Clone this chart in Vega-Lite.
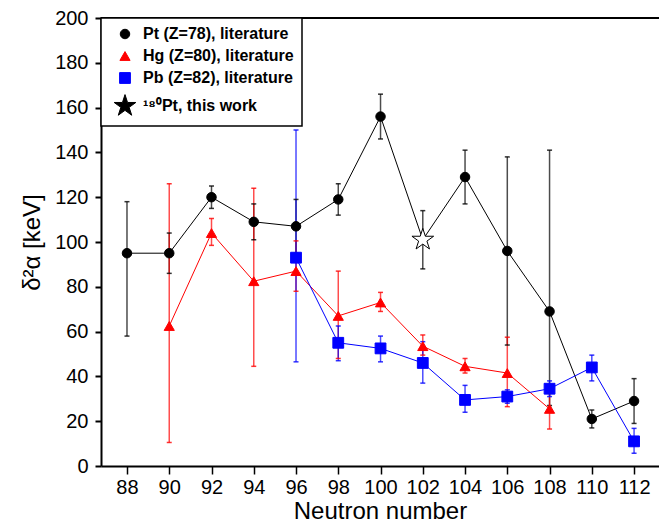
{
  "$schema": "https://vega.github.io/schema/vega-lite/v6.json",
  "width": 558,
  "height": 448,
  "autosize": {"type": "none"},
  "padding": {"left": 101, "top": 18, "right": 0, "bottom": 57},
  "background": "white",
  "config": {
    "view": {"stroke": null},
    "font": "Liberation Sans",
    "axis": {"grid": false, "domainColor": "black", "tickColor": "black", "labelColor": "black", "titleColor": "black", "labelFont": "Liberation Sans", "titleFont": "Liberation Sans", "titleFontWeight": "normal"},
    "legend": {
      "orient": "top-left", "offset": 0, "title": null,
      "strokeColor": "black", "strokeWidth": 1.5, "fillColor": "white",
      "padding": 8, "labelFontSize": 16, "labelFontWeight": "bold", "labelFont": "Liberation Sans", "labelColor": "black",
      "rowPadding": 6, "symbolOffset": 8, "labelOffset": 10, "symbolStrokeWidth": 1, "symbolOpacity": 1
    }
  },
  "data": {
    "values": [
      {"n": 88, "v": 95, "lo": 58, "hi": 118, "series": "Pt (Z=78), literature", "line": "Pt"},
      {"n": 90, "v": 95, "lo": 86, "hi": 104, "series": "Pt (Z=78), literature", "line": "Pt"},
      {"n": 92, "v": 120, "lo": 115, "hi": 125, "series": "Pt (Z=78), literature", "line": "Pt"},
      {"n": 94, "v": 109, "lo": 101, "hi": 117, "series": "Pt (Z=78), literature", "line": "Pt"},
      {"n": 96, "v": 107, "lo": 95, "hi": 119, "series": "Pt (Z=78), literature", "line": "Pt"},
      {"n": 98, "v": 119, "lo": 112, "hi": 126, "series": "Pt (Z=78), literature", "line": "Pt"},
      {"n": 100, "v": 156, "lo": 146, "hi": 166, "series": "Pt (Z=78), literature", "line": "Pt"},
      {"n": 102, "v": 101, "lo": 88, "hi": 114, "series": "¹⁸⁰Pt, this work", "line": "Pt"},
      {"n": 104, "v": 129, "lo": 117, "hi": 141, "series": "Pt (Z=78), literature", "line": "Pt"},
      {"n": 106, "v": 96, "lo": 54, "hi": 138, "series": "Pt (Z=78), literature", "line": "Pt"},
      {"n": 108, "v": 69, "lo": 27, "hi": 141, "series": "Pt (Z=78), literature", "line": "Pt"},
      {"n": 110, "v": 21, "lo": 17, "hi": 25, "series": "Pt (Z=78), literature", "line": "Pt"},
      {"n": 112, "v": 29, "lo": 19, "hi": 39, "series": "Pt (Z=78), literature", "line": "Pt"},
      {"n": 90, "v": 62.5, "lo": 10.5, "hi": 126, "series": "Hg (Z=80), literature", "line": "Hg"},
      {"n": 92, "v": 104, "lo": 98.5, "hi": 110.5, "series": "Hg (Z=80), literature", "line": "Hg"},
      {"n": 94, "v": 82.5, "lo": 44.5, "hi": 124, "series": "Hg (Z=80), literature", "line": "Hg"},
      {"n": 96, "v": 87, "lo": 78, "hi": 100.5, "series": "Hg (Z=80), literature", "line": "Hg"},
      {"n": 98, "v": 67, "lo": 48, "hi": 87, "series": "Hg (Z=80), literature", "line": "Hg"},
      {"n": 100, "v": 73, "lo": 69, "hi": 77.5, "series": "Hg (Z=80), literature", "line": "Hg"},
      {"n": 102, "v": 53.5, "lo": 49.5, "hi": 58.5, "series": "Hg (Z=80), literature", "line": "Hg"},
      {"n": 104, "v": 44.5, "lo": 41.5, "hi": 48, "series": "Hg (Z=80), literature", "line": "Hg"},
      {"n": 106, "v": 41.5, "lo": 26.5, "hi": 57.5, "series": "Hg (Z=80), literature", "line": "Hg"},
      {"n": 108, "v": 25.5, "lo": 16.5, "hi": 34, "series": "Hg (Z=80), literature", "line": "Hg"},
      {"n": 96, "v": 93, "lo": 46.5, "hi": 150, "series": "Pb (Z=82), literature", "line": "Pb"},
      {"n": 98, "v": 55, "lo": 47, "hi": 62.5, "series": "Pb (Z=82), literature", "line": "Pb"},
      {"n": 100, "v": 52.5, "lo": 46.5, "hi": 58, "series": "Pb (Z=82), literature", "line": "Pb"},
      {"n": 102, "v": 46, "lo": 37, "hi": 55.5, "series": "Pb (Z=82), literature", "line": "Pb"},
      {"n": 104, "v": 29.5, "lo": 24, "hi": 36, "series": "Pb (Z=82), literature", "line": "Pb"},
      {"n": 106, "v": 31, "lo": 28, "hi": 34, "series": "Pb (Z=82), literature", "line": "Pb"},
      {"n": 108, "v": 34.5, "lo": 31, "hi": 38, "series": "Pb (Z=82), literature", "line": "Pb"},
      {"n": 110, "v": 44, "lo": 38, "hi": 49.5, "series": "Pb (Z=82), literature", "line": "Pb"},
      {"n": 112, "v": 11, "lo": 5.7, "hi": 16.8, "series": "Pb (Z=82), literature", "line": "Pb"}
    ]
  },
  "encoding": {
    "x": {
      "field": "n", "type": "quantitative",
      "scale": {"domain": [86.77, 113.18], "nice": false, "zero": false},
      "axis": {
        "values": [88, 90, 92, 94, 96, 98, 100, 102, 104, 106, 108, 110, 112],
        "title": "Neutron number", "titleFontSize": 24, "titlePadding": 2,
        "labelFontSize": 20, "labelPadding": 3, "tickSize": 8, "tickWidth": 1.5, "domainWidth": 2,
        "labelOverlap": false
      }
    }
  },
  "layer": [
    {
      "mark": {"type": "rule", "strokeWidth": 1.5, "color": "black"},
      "encoding": {
        "y": {"datum": 200, "type": "quantitative",
          "scale": {"domain": [0, 200], "nice": false, "zero": true},
          "axis": {
            "values": [0,5,10,15,20,25,30,35,40,45,50,55,60,65,70,75,80,85,90,95,100,105,110,115,120,125,130,135,140,145,150,155,160,165,170,175,180,185,190,195,200],
            "labelExpr": "datum.value % 20 === 0 ? datum.label : ''",
            "tickSize": 6,
            "tickWidth": {"condition": {"test": "datum.value % 20 === 0", "value": 2}, "value": 1},
            "domainWidth": 2, "labelOverlap": false,
            "labelFontSize": 20, "labelPadding": 7,
            "title": "δ²α [keV]", "titleFontSize": 24, "titlePadding": 10
          }
        },
        "x": null
      }
    },
    {
      "mark": {"type": "rule", "strokeWidth": 1.5, "opacity": 0.7},
      "encoding": {
        "y": {"field": "lo", "type": "quantitative"},
        "y2": {"field": "hi"},
        "color": {"field": "series", "type": "nominal",
          "scale": {"domain": ["Pt (Z=78), literature", "Hg (Z=80), literature", "Pb (Z=82), literature", "¹⁸⁰Pt, this work"], "range": ["black", "red", "blue", "black"]}}
      }
    },
    {
      "mark": {"type": "tick", "orient": "horizontal", "size": 5, "thickness": 1.5, "opacity": 0.8},
      "encoding": {
        "y": {"field": "lo", "type": "quantitative"},
        "color": {"field": "series", "type": "nominal"}
      }
    },
    {
      "mark": {"type": "tick", "orient": "horizontal", "size": 5, "thickness": 1.5, "opacity": 0.8},
      "encoding": {
        "y": {"field": "hi", "type": "quantitative"},
        "color": {"field": "series", "type": "nominal"}
      }
    },
    {
      "transform": [{"filter": "datum.line === 'Pt'"}],
      "mark": {"type": "line", "color": "black", "strokeWidth": 1},
      "encoding": {"y": {"field": "v", "type": "quantitative"}, "order": {"field": "n"}}
    },
    {
      "transform": [{"filter": "datum.line === 'Hg'"}],
      "mark": {"type": "line", "color": "red", "strokeWidth": 1},
      "encoding": {"y": {"field": "v", "type": "quantitative"}, "order": {"field": "n"}}
    },
    {
      "transform": [{"filter": "datum.line === 'Pb'"}],
      "mark": {"type": "line", "color": "blue", "strokeWidth": 1},
      "encoding": {"y": {"field": "v", "type": "quantitative"}, "order": {"field": "n"}}
    },
    {
      "mark": {"type": "point", "filled": false, "opacity": 1, "strokeWidth": 1},
      "encoding": {
        "y": {"field": "v", "type": "quantitative"},
        "color": {"field": "series", "type": "nominal"},
        "fill": {"field": "series", "type": "nominal",
          "scale": {"domain": ["Pt (Z=78), literature", "Hg (Z=80), literature", "Pb (Z=82), literature", "¹⁸⁰Pt, this work"], "range": ["black", "red", "blue", "white"]}},
        "shape": {"field": "series", "type": "nominal",
          "scale": {"domain": ["Pt (Z=78), literature", "Hg (Z=80), literature", "Pb (Z=82), literature", "¹⁸⁰Pt, this work"], "range": ["circle", "triangle-up", "square", "M0,-2L0.449,-0.618L1.902,-0.618L0.727,0.236L1.176,1.618L0,0.764L-1.176,1.618L-0.727,0.236L-1.902,-0.618L-0.449,-0.618Z"]}},
        "size": {"field": "series", "type": "ordinal",
          "scale": {"domain": ["Pt (Z=78), literature", "Hg (Z=80), literature", "Pb (Z=82), literature", "¹⁸⁰Pt, this work"], "range": [90, 130, 100, 100]}}
      }
    }
  ],
  "resolve": {"scale": {"y": "shared"}}
}
